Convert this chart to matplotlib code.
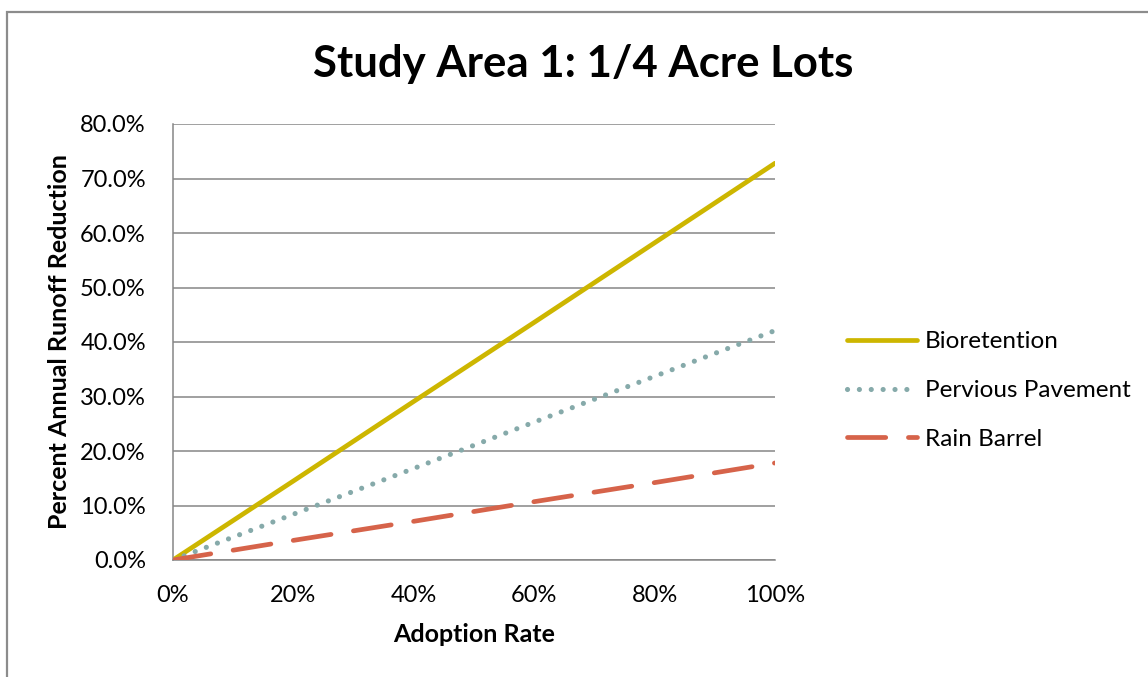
import matplotlib
matplotlib.use("Agg")
import matplotlib.pyplot as plt
from matplotlib.patches import Rectangle
from matplotlib.ticker import FuncFormatter

plt.rcParams['font.family'] = ['Lato', 'DejaVu Sans']

# Adoption rate (fraction of lots) and annual runoff reduction (%)
adoption = [0.0, 0.2, 0.4, 0.6, 0.8, 1.0]
bioretention = [0.0, 14.5, 29.1, 43.6, 58.2, 72.8]
pervious_pavement = [0.0, 8.4, 16.8, 25.3, 33.7, 42.1]
rain_barrel = [0.0, 3.6, 7.1, 10.7, 14.2, 17.8]

series_names = ["Bioretention", "Pervious Pavement", "Rain Barrel"]
x_ticks = [0.0, 0.2, 0.4, 0.6, 0.8, 1.0]
y_ticks = [0, 10, 20, 30, 40, 50, 60, 70, 80]

W, H = 1148, 677
fig = plt.figure(figsize=(W / 100, H / 100), dpi=100)
fig.patch.set_facecolor("white")

# outer chart frame
fig.patches.append(Rectangle((7 / W, -0.05), 1.2, 1 - 11.5 / H + 0.05,
                             transform=fig.transFigure, fill=False,
                             edgecolor="#8c8c8c", linewidth=1.6))

ax = fig.add_axes([173 / W, 1 - 560 / H, (775 - 173) / W, (560 - 124) / H])

grid_c = "#868686"
ax.set_xlim(0, 1)
ax.set_ylim(0, 80)
ax.set_yticks(y_ticks)
ax.set_xticks(x_ticks)
ax.yaxis.set_major_formatter(FuncFormatter(lambda v, p: f"{v:.1f}%"))
ax.xaxis.set_major_formatter(FuncFormatter(lambda v, p: f"{v * 100:.0f}%"))
ax.grid(axis="y", color=grid_c, linewidth=1.1)
ax.set_axisbelow(True)
for s in ["top", "right"]:
    ax.spines[s].set_visible(False)
for s in ["left", "bottom"]:
    ax.spines[s].set_color(grid_c)
    ax.spines[s].set_linewidth(1.1)
ax.tick_params(axis="both", length=0, labelsize=17, colors="black")
ax.tick_params(axis="y", pad=19.5)
ax.tick_params(axis="x", pad=18)

lw = 3.4
ax.plot(adoption, bioretention, color="#CDB600", linewidth=lw,
        solid_capstyle="round", label=series_names[0], zorder=3)
ax.plot(adoption, pervious_pavement, color="#86AAAA", linewidth=3.7,
        linestyle=(0, (0.01, 2.3)), dash_capstyle="round",
        label=series_names[1], zorder=3)
ax.plot(adoption, rain_barrel, color="#D6634A", linewidth=lw,
        linestyle=(0, (8.1, 4.8)), dash_capstyle="round",
        label=series_names[2], zorder=3)

ax.set_xlabel("Adoption Rate", fontsize=18, fontweight="bold")
ax.xaxis.set_label_coords(0.5, -(634 - 560) / (560 - 124), transform=ax.transAxes)
ax.xaxis.label.set_va("center")
ax.set_ylabel("Percent Annual Runoff Reduction", fontsize=18,
              fontweight="bold")
ax.yaxis.set_label_coords(-(173 - 60) / (775 - 173), 0.5)
ax.yaxis.label.set_va("center")

fig.text(583 / W, 1 - 64 / H, "Study Area 1: 1/4 Acre Lots", fontsize=31.5,
         fontweight="bold", ha="center", va="center")

leg = ax.legend(loc="center left", bbox_to_anchor=(825 / W, 1 - 390.5 / H),
                bbox_transform=fig.transFigure, frameon=False, fontsize=17.5,
                handlelength=2.9, labelspacing=1.15, handletextpad=0.3)

fig.savefig("out.png", dpi=100)
